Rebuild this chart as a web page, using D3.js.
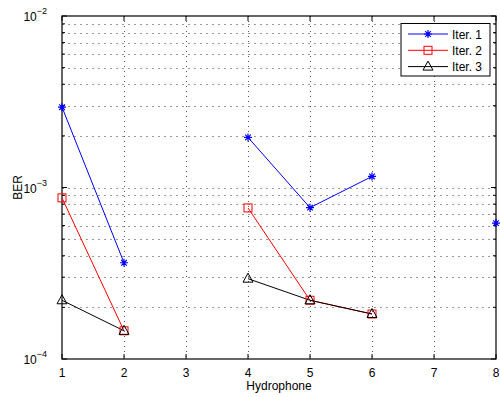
<!DOCTYPE html>
<html>
<head>
    <meta charset="utf-8">
    <title>BER per hydrophone</title>
    <script src="https://d3js.org/d3.v7.min.js"></script>
    <style>
        body { margin: 0; background: #fff; }
        text { font-family: "Liberation Sans", Arial, sans-serif; font-size: 12px; fill: #000; }
        .grid line { stroke: #555; stroke-width: 1; stroke-dasharray: 1,4; shape-rendering: crispEdges; }
    </style>
</head>
<body>
    <svg width="500" height="397"></svg>
    <script>
        // data (null = no value)
        var hydrophones = [1, 2, 3, 4, 5, 6, 7, 8];
        var iter1 = [2.94e-3, 3.64e-4, null, 1.96e-3, 7.63e-4, 1.16e-3, null, 6.2e-4];
        var iter2 = [8.7e-4, 1.46e-4, null, 7.6e-4, 2.2e-4, 1.83e-4, null, null];
        var iter3 = [2.2e-4, 1.46e-4, null, 2.94e-4, 2.2e-4, 1.83e-4, null, null];
        var seriesNames = ["Iter. 1", "Iter. 2", "Iter. 3"];
        var xTicks = [1, 2, 3, 4, 5, 6, 7, 8];
        var yMajor = [1e-4, 1e-3, 1e-2];

        var series = [
            { name: seriesNames[0], values: iter1, color: "#0000ff", marker: "star" },
            { name: seriesNames[1], values: iter2, color: "#ff0000", marker: "square" },
            { name: seriesNames[2], values: iter3, color: "#000000", marker: "triangle" }
        ];

        // plot box (window.top is read-only, so use other names)
        var pL = 62, pR = 496, pT = 16, pB = 359;
        var svg = d3.select("svg");

        var x = d3.scaleLinear().domain([1, 8]).range([pL, pR]);
        var y = d3.scaleLog().domain([1e-4, 1e-2]).range([pB, pT]);

        // minor values for log grid
        var yMinor = [];
        [1e-4, 1e-3].forEach(function (d) {
            for (var k = 2; k <= 9; k++) yMinor.push(d * k);
        });

        // grid
        var grid = svg.append("g").attr("class", "grid");
        grid.selectAll(".gx").data(xTicks.slice(1, -1)).enter().append("line")
            .attr("x1", function (d) { return Math.round(x(d)) + 0.5; })
            .attr("x2", function (d) { return Math.round(x(d)) + 0.5; })
            .attr("y1", pT).attr("y2", pB);
        grid.selectAll(".gy").data(yMinor.concat([1e-3])).enter().append("line")
            .attr("y1", function (d) { return Math.round(y(d)) + 0.5; })
            .attr("y2", function (d) { return Math.round(y(d)) + 0.5; })
            .attr("x1", pL).attr("x2", pR)
            .style("stroke", "#999")
            .style("stroke-dasharray", "2,4");

        // ticks inside the box, on all sides
        var ticks = svg.append("g").attr("stroke", "#000").attr("stroke-width", 1);
        xTicks.forEach(function (d) {
            ticks.append("line").attr("x1", x(d)).attr("x2", x(d)).attr("y1", pB).attr("y2", pB - 5);
            ticks.append("line").attr("x1", x(d)).attr("x2", x(d)).attr("y1", pT).attr("y2", pT + 5);
        });
        yMajor.forEach(function (d) {
            ticks.append("line").attr("x1", pL).attr("x2", pL + 5).attr("y1", y(d)).attr("y2", y(d));
            ticks.append("line").attr("x1", pR).attr("x2", pR - 5).attr("y1", y(d)).attr("y2", y(d));
        });
        yMinor.forEach(function (d) {
            ticks.append("line").attr("x1", pL).attr("x2", pL + 3).attr("y1", y(d)).attr("y2", y(d));
            ticks.append("line").attr("x1", pR).attr("x2", pR - 3).attr("y1", y(d)).attr("y2", y(d));
        });

        // box
        svg.append("rect")
            .attr("x", pL).attr("y", pT)
            .attr("width", pR - pL).attr("height", pB - pT)
            .attr("fill", "none").attr("stroke", "#000").attr("stroke-width", 1.2);

        // x tick labels
        svg.selectAll(".xl").data(xTicks).enter().append("text")
            .attr("x", function (d) { return x(d); })
            .attr("y", pB + 18)
            .attr("text-anchor", "middle")
            .text(function (d) { return d; });

        // y tick labels 10^k
        yMajor.forEach(function (d) {
            var t = svg.append("text")
                .attr("x", pL - 15).attr("y", y(d) + 5)
                .attr("text-anchor", "end");
            t.append("tspan").text("10");
            t.append("tspan").attr("dy", -7).style("font-size", "9px").text("\u2212" + Math.round(-Math.log10(d)));
        });

        // axis titles
        svg.append("text")
            .attr("x", (pL + pR) / 2).attr("y", pB + 31)
            .attr("text-anchor", "middle")
            .text("Hydrophone");
        svg.append("text")
            .attr("transform", "rotate(-90)")
            .attr("x", -(pT + pB) / 2).attr("y", 22)
            .attr("text-anchor", "middle")
            .text("BER");

        // marker drawing
        function drawMarker(g, type, color) {
            if (type === "star") {
                var r = 4;
                g.append("path")
                    .attr("d", "M" + (-r) + ",0H" + r + "M0," + (-r) + "V" + r +
                        "M" + (-r * 0.7) + "," + (-r * 0.7) + "L" + (r * 0.7) + "," + (r * 0.7) +
                        "M" + (-r * 0.7) + "," + (r * 0.7) + "L" + (r * 0.7) + "," + (-r * 0.7))
                    .attr("stroke", color).attr("stroke-width", 1.2).attr("fill", "none");
            } else if (type === "square") {
                g.append("rect").attr("x", -4).attr("y", -4).attr("width", 8).attr("height", 8)
                    .attr("stroke", color).attr("stroke-width", 1).attr("fill", "none");
            } else {
                g.append("path").attr("d", "M0,-5.5L5,3.5L-5,3.5Z")
                    .attr("stroke", color).attr("stroke-width", 1).attr("fill", "none");
            }
        }

        var plot = svg.append("g");
        var line = d3.line()
            .defined(function (d) { return d != null; })
            .x(function (d, i) { return x(hydrophones[i]); })
            .y(function (d) { return y(d); });

        series.forEach(function (s) {
            plot.append("path")
                .attr("d", line(s.values))
                .attr("fill", "none")
                .attr("stroke", s.color)
                .attr("stroke-width", 1);
        });
        series.forEach(function (s) {
            s.values.forEach(function (v, i) {
                if (v == null) return;
                var g = plot.append("g")
                    .attr("transform", "translate(" + x(hydrophones[i]) + "," + y(v) + ")");
                drawMarker(g, s.marker, s.color);
            });
        });

        // legend
        var lg = svg.append("g");
        lg.append("rect")
            .attr("x", 401).attr("y", 23.5).attr("width", 89).attr("height", 52.5)
            .attr("fill", "#fff").attr("stroke", "#000").attr("stroke-width", 1);
        series.forEach(function (s, i) {
            var ly = 34 + i * 16.3;
            lg.append("line").attr("x1", 408).attr("x2", 448).attr("y1", ly).attr("y2", ly)
                .attr("stroke", s.color).attr("stroke-width", 1);
            drawMarker(lg.append("g").attr("transform", "translate(428," + ly + ")"), s.marker, s.color);
            lg.append("text").attr("x", 452).attr("y", ly + 4.5).text(s.name);
        });
    </script>
</body>
</html>
